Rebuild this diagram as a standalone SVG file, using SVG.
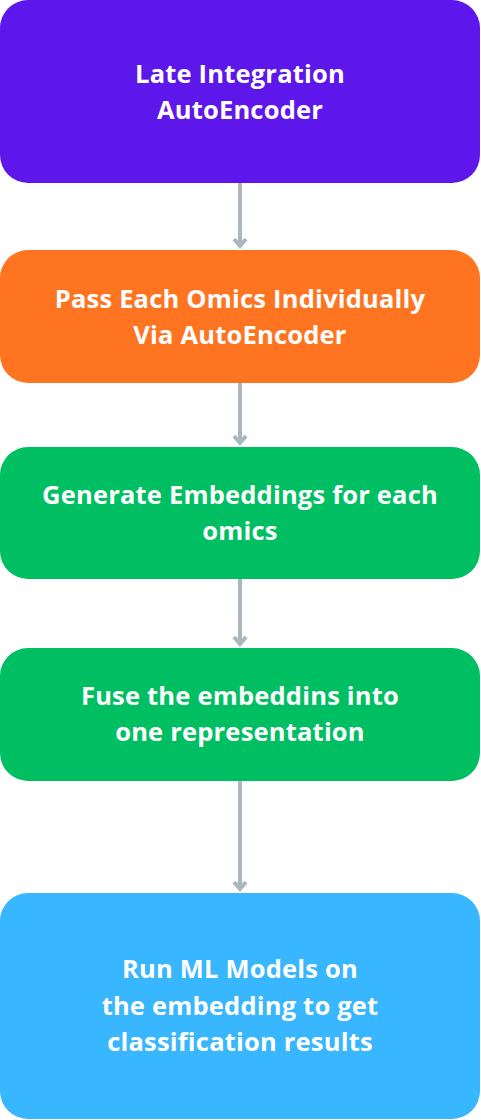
<svg xmlns="http://www.w3.org/2000/svg" width="481" height="1120" viewBox="0 0 481 1120">
  <style>
    .box text { font-family: "Open Sans", "Liberation Sans", sans-serif; font-weight: 700; font-size: 25.5px; letter-spacing: 0.2px; fill: #ffffff; text-anchor: middle; }
    .conn { stroke: #a9b7bf; stroke-width: 4; fill: none; }
  </style>
  <rect width="481" height="1120" fill="#ffffff"/>

  <g id="connectors">
    <line class="conn" x1="240" y1="183" x2="240" y2="246"/>
    <path d="M234 239 L240 246 L246 239" class="conn"/>
    <line class="conn" x1="240" y1="383" x2="240" y2="443"/>
    <path d="M234 436 L240 443 L246 436" class="conn"/>
    <line class="conn" x1="240" y1="579" x2="240" y2="644"/>
    <path d="M234 637 L240 644 L246 637" class="conn"/>
    <line class="conn" x1="240" y1="781" x2="240" y2="889"/>
    <path d="M234 882 L240 889 L246 882" class="conn"/>
  </g>

  <g id="late-integration" class="box">
    <rect x="0" y="0" width="480" height="183" rx="28" fill="#5e17eb"/>
    <text x="240" y="83">Late Integration</text>
    <text x="240" y="119">AutoEncoder</text>
  </g>

  <g id="pass-omics" class="box">
    <rect x="0" y="250" width="480" height="133" rx="28" fill="#ff7420"/>
    <text x="240" y="308">Pass Each Omics Individually</text>
    <text x="240" y="344">Via AutoEncoder</text>
  </g>

  <g id="generate-embeddings" class="box">
    <rect x="0" y="447" width="480" height="132" rx="28" fill="#00bf63"/>
    <text x="240" y="504">Generate Embeddings for each</text>
    <text x="240" y="540">omics</text>
  </g>

  <g id="fuse-embeddings" class="box">
    <rect x="0" y="648" width="480" height="133" rx="28" fill="#00bf63"/>
    <text x="240" y="705">Fuse the embeddins into</text>
    <text x="240" y="741">one representation</text>
  </g>

  <g id="run-ml" class="box">
    <rect x="0" y="893" width="480" height="226" rx="28" fill="#38b6ff"/>
    <text x="240" y="978">Run ML Models on</text>
    <text x="240" y="1015">the embedding to get</text>
    <text x="240" y="1051">classification results</text>
  </g>
</svg>
